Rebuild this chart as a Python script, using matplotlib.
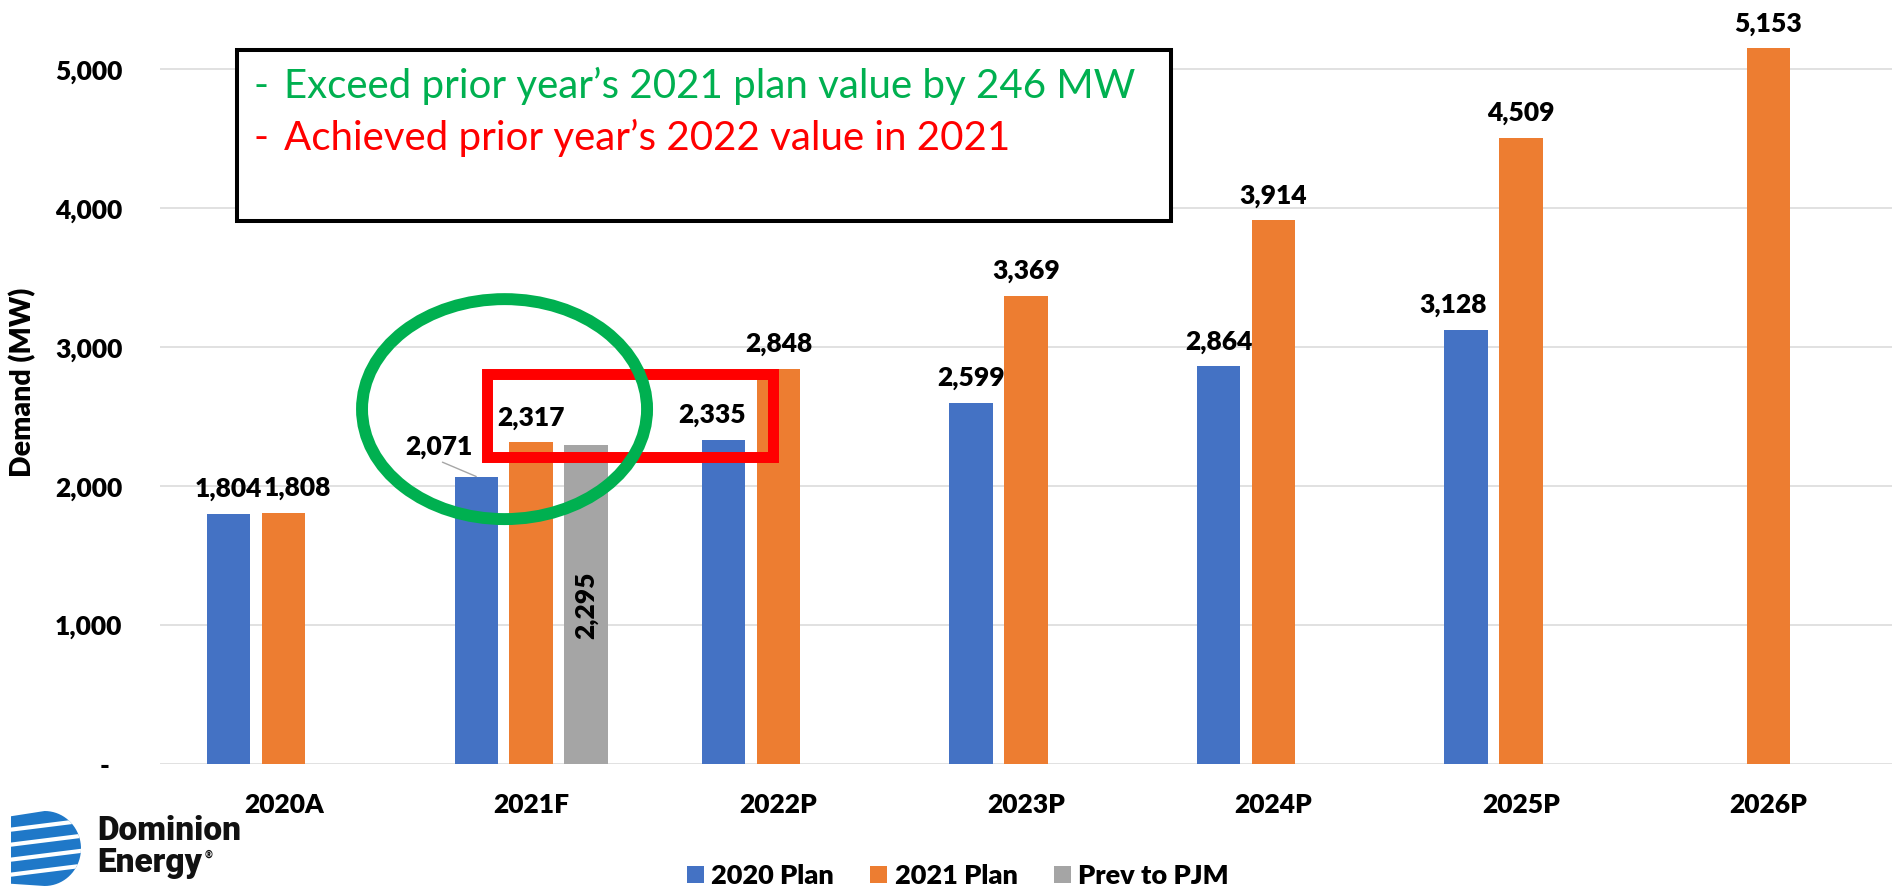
import numpy as np
import matplotlib
matplotlib.use("Agg")
import matplotlib.pyplot as plt
from matplotlib.patches import Rectangle, Ellipse, Polygon
from matplotlib.ticker import FuncFormatter

# data
categories = ["2020A", "2021F", "2022P", "2023P", "2024P", "2025P", "2026P"]
plan_2020 = [1804, 2071, 2335, 2599, 2864, 3128, np.nan]
plan_2021 = [1808, 2317, 2848, 3369, 3914, 4509, 5153]
prev_pjm = [np.nan, 2295, np.nan, np.nan, np.nan, np.nan, np.nan]
series_names = ["2020 Plan", "2021 Plan", "Prev to PJM"]
colors = ["#4472C4", "#ED7D31", "#A5A5A5"]
y_ticks = [0, 1000, 2000, 3000, 4000, 5000]

note_green = "Exceed prior year\u2019s 2021 plan value by 246 MW"
note_red = "Achieved prior year\u2019s 2022 value in 2021"

plt.rcParams['font.family'] = ['Lato', 'DejaVu Sans']
plt.rcParams['font.weight'] = 'heavy'

W, H = 1898, 893
fig = plt.figure(figsize=(W / 100, H / 100), dpi=100)


def fx(x):
    return x / W


def fy(y):
    return 1 - y / H


ax = fig.add_axes([fx(160), fy(764.3), 1732 / W, 764.3 / H])

x = np.arange(len(categories))
bw = 0.175
step = 0.222
all_series = [plan_2020, plan_2021, prev_pjm]
containers = []
for k, (vals, c, name) in enumerate(zip(all_series, colors, series_names)):
    b = ax.bar(x + (k - 1) * step, vals, width=bw, color=c, label=name, zorder=2)
    containers.append(b)

# data labels (Excel nudged a few of them sideways)
dx_shift = {(1, 0): 9.7, (0, 2): -8.0, (0, 5): -9.0}
for k, cont in enumerate(containers):
    for i, rect in enumerate(cont):
        h = rect.get_height()
        if np.isnan(h):
            continue
        xc = rect.get_x() + rect.get_width() / 2
        txt = f"{h:,.0f}"
        if k == 2:
            ax.text(xc, h / 2, txt, rotation=90, ha='center', va='center',
                    fontsize=19, color='black', zorder=6)
        elif (k, i) == (0, 1):
            ax.annotate(txt, (xc, h), xytext=(-26.6, 15.4), textcoords='offset points',
                        ha='center', va='baseline', fontsize=19, color='black',
                        arrowprops=dict(arrowstyle='-', color='#A6A6A6', lw=1,
                                        shrinkA=0, shrinkB=0, relpos=(0.45, 0.0)))
        else:
            ax.annotate(txt, (xc, h), xytext=(dx_shift.get((k, i), 0), 12.2),
                        textcoords='offset points', ha='center', va='baseline',
                        fontsize=19, color='black', zorder=6)

ax.set_xlim(-0.5, len(categories) - 0.5)
ax.set_ylim(0, 5500)
ax.set_xticks(x)
ax.set_xticklabels(categories, fontsize=19)
ax.set_yticks(y_ticks)
ax.yaxis.set_major_formatter(FuncFormatter(lambda v, p: "-  " if v == 0 else f"{v:,.0f}"))
ax.tick_params(axis='y', length=0, pad=27, labelsize=19)
ax.tick_params(axis='x', length=0, pad=20.5)
ax.grid(axis='y', color='#D9D9D9', lw=1.1, zorder=0)
ax.set_axisbelow(True)
for s in ax.spines.values():
    s.set_visible(False)
ax.set_ylabel("Demand (MW)", fontsize=20.5, fontweight='heavy', va='center')
ax.yaxis.set_label_coords((22.5 - 160) / 1732, 0.5)

# highlight shapes
ax.add_patch(Rectangle((0.822, 2211), 1.156, 597, fill=False, ec='#FF0000',
                       lw=7.9, zorder=4, clip_on=False))
ax.add_patch(Ellipse((0.8925, 2556), 1.152, 1583, fill=False, ec='#00B050',
                     lw=8.6, zorder=5, clip_on=False))

# note box
fig.add_artist(Rectangle((fx(237), fy(220.5)), (1171 - 237) / W, (220.5 - 49.5) / H,
                         transform=fig.transFigure, fc='white', ec='black', lw=2.9, zorder=3))
for yb, col, txt in [(98, '#00B050', note_green), (150, '#FF0000', note_red)]:
    fig.text(fx(254), fy(yb), "-", color=col, fontsize=29, fontweight='normal',
             va='baseline', zorder=4)
    fig.text(fx(284), fy(yb), txt, color=col, fontsize=29, fontweight='normal',
             va='baseline', zorder=4)

# legend
fig.legend(handles=containers, labels=series_names, loc='center',
           bbox_to_anchor=(0.5047, fy(876)), ncol=3, frameon=False,
           prop=dict(family='Lato', weight='heavy', size=19.5),
           handlelength=0.63, handleheight=0.63, handletextpad=0.28, columnspacing=1.33)

# logo
lax = fig.add_axes([fx(11), fy(886), 70 / W, 75 / H])
lax.set_xlim(0, 1)
lax.set_ylim(0, 1)
lax.axis('off')
t = np.linspace(np.pi / 2, -np.pi / 2, 40)
pts = [(0, 0.03), (0, 0.93)] + [(0.48 + 0.52 * np.cos(a), 0.5 + 0.5 * np.sin(a)) for a in t]
shape = Polygon(pts, closed=True, fc='#1F78C8', ec='none')
lax.add_patch(shape)
for y0 in [0.2, 0.4, 0.6, 0.8]:
    ln, = lax.plot([-0.1, 1.1], [y0 - 0.06, y0 + 0.08], color='white', lw=3)
    ln.set_clip_path(shape)
fig.text(fx(97), fy(872), "Dominion\nEnergy", fontfamily='Roboto', fontweight='black',
         fontsize=24, va='baseline', linespacing=1.0, color='#111111')
fig.text(fx(204), fy(858), "\u00ae", fontfamily='DejaVu Sans', fontsize=7,
         va='baseline', color='#111111')

fig.savefig("out.png", dpi=100)
